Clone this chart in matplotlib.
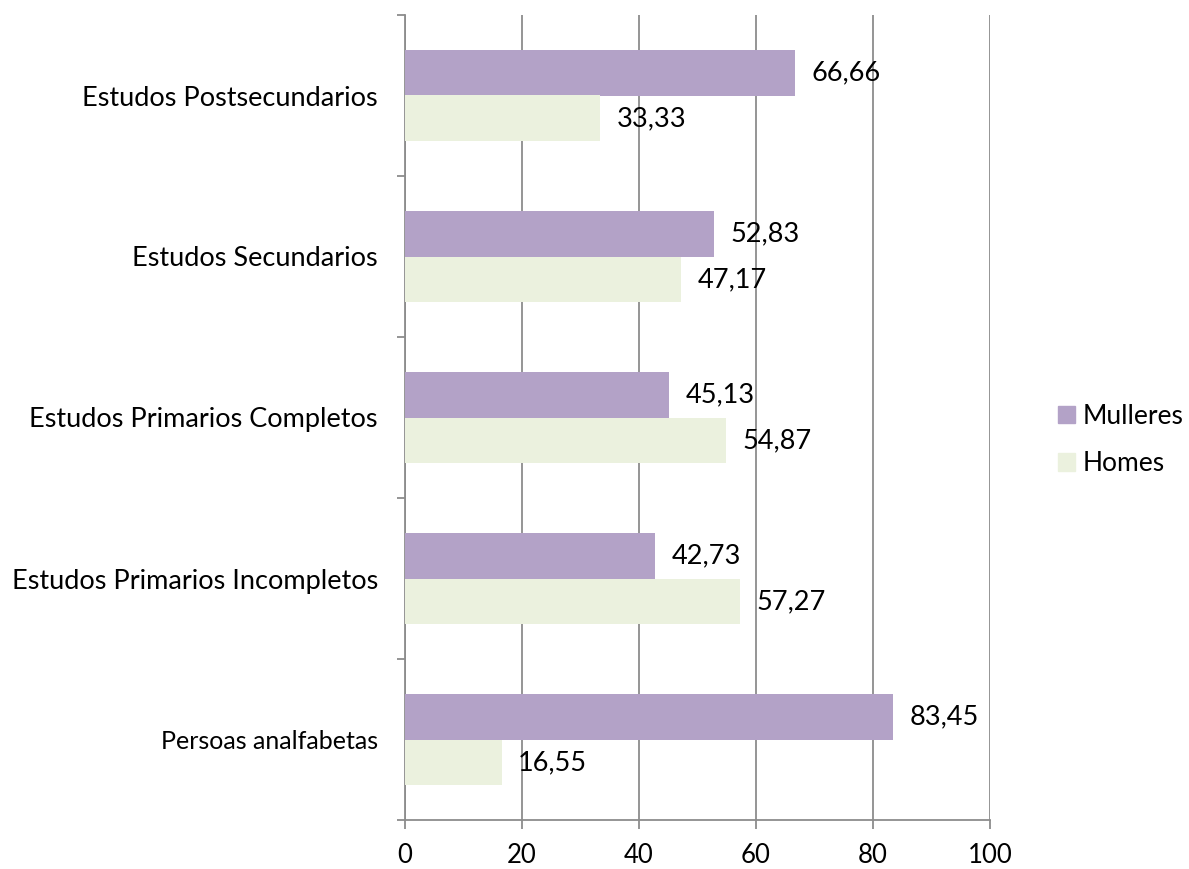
import matplotlib.pyplot as plt
from matplotlib.patches import Patch

categories = ["Persoas analfabetas", "Estudos Primarios Incompletos",
              "Estudos Primarios Completos", "Estudos Secundarios",
              "Estudos Postsecundarios"]
mulleres = [83.45, 42.73, 45.13, 52.83, 66.66]
homes = [16.55, 57.27, 54.87, 47.17, 33.33]
xticks = [0, 20, 40, 60, 80, 100]

c_m = "#b3a2c7"
c_h = "#ebf1de"
grid_c = "#8c8c8c"
fs = 19.5

plt.rcParams['font.family'] = ['Lato', 'DejaVu Sans']

fig = plt.figure(figsize=(11.89, 8.69), dpi=100)
ax = fig.add_axes([405/1189, 1-820/869, 585/1189, 805/869])

h = 0.285
ypos = list(range(len(categories)))
ax.barh([y + h/2 for y in ypos], mulleres, height=h, color=c_m, zorder=3)
ax.barh([y - h/2 for y in ypos], homes, height=h, color=c_h, zorder=3)

for y, v in zip(ypos, mulleres):
    ax.text(v + 2.8, y + h/2, f"{v:.2f}".replace('.', ','), va='center',
            ha='left', fontsize=fs, color='black', zorder=4)
for y, v in zip(ypos, homes):
    ax.text(v + 2.8, y - h/2, f"{v:.2f}".replace('.', ','), va='center',
            ha='left', fontsize=fs, color='black', zorder=4)

ax.set_xlim(0, 100)
ax.set_ylim(-0.5, len(categories) - 0.5)
ax.set_xticks(xticks)
ax.set_xticklabels([str(t) for t in xticks], fontsize=18.5)
ax.set_yticks([y - 0.5 for y in ypos] + [len(categories) - 0.5], minor=True)
ax.set_yticks(ypos)
ax.set_yticklabels(categories, fontsize=fs)
ax.get_yticklabels()[0].set_fontsize(18)
ax.tick_params(axis='y', which='major', length=0, pad=19.5)
ax.tick_params(axis='y', which='minor', length=6, width=1.3, color=grid_c)
ax.tick_params(axis='x', length=6.5, width=1.3, color=grid_c, pad=10)

ax.grid(axis='x', color=grid_c, linewidth=1.3, zorder=0)
for s in ['top', 'right']:
    ax.spines[s].set_visible(False)
for s in ['left', 'bottom']:
    ax.spines[s].set_color(grid_c)
    ax.spines[s].set_linewidth(1.3)

handles = [Patch(color=c_m, label="Mulleres"), Patch(color=c_h, label="Homes")]
fig.legend(handles=handles, loc='center left', bbox_to_anchor=(1034/1189, 1-440/869),
           frameon=False, fontsize=19, handlelength=0.65, handleheight=0.65,
           handletextpad=0.3, labelspacing=0.85)

fig.savefig("out.png", dpi=100)
